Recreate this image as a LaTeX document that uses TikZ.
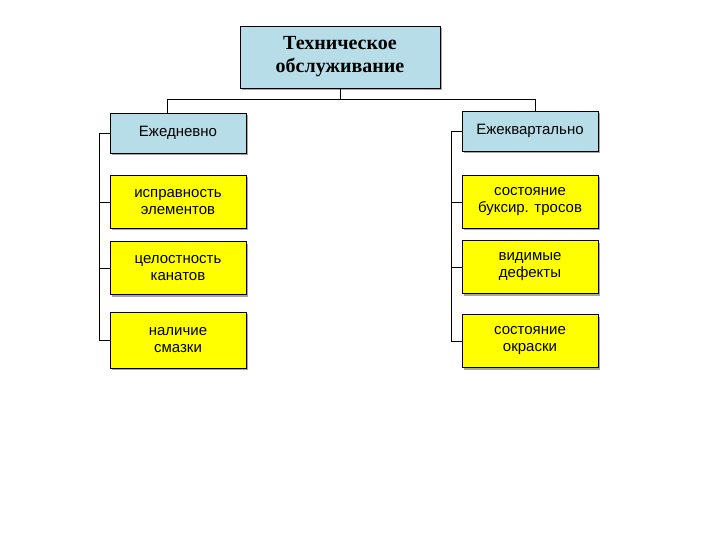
\documentclass[tikz,border=0pt]{standalone}
\usepackage{fontspec}
\setmainfont{Liberation Sans}
\newfontfamily\titlefont{Liberation Serif}
\usetikzlibrary{shadows}
\definecolor{cyanbox}{RGB}{183,222,232}
\definecolor{yelbox}{RGB}{255,255,0}
\tikzset{
 box/.style={draw=black,line width=0.8pt,minimum width=136pt,align=center,font=\fontsize{15}{17}\selectfont,
   drop shadow={shadow xshift=2pt,shadow yshift=-2pt,fill=gray!70,opacity=1}},
 hdr/.style={box,fill=cyanbox,minimum height=40pt},
 itm/.style={box,fill=yelbox,minimum height=53pt},
 ln/.style={line width=0.6pt}
}
\begin{document}
\begin{tikzpicture}[x=1pt,y=-1pt]
\useasboundingbox (0,0) rectangle (720,540);
\node[box,fill=cyanbox,minimum width=200pt,minimum height=62pt,font=\titlefont\bfseries\fontsize{20}{23}\selectfont] (top) at (340,57) {Техническое\\обслуживание};
\node[hdr] (d) at (178,133) {Ежедневно};
\node[hdr] (q) at (530,131) {Ежеквартально};
\node[itm] (d1) at (178,202) {исправность\\элементов};
\node[itm] (d2) at (178,268) {целостность\\канатов};
\node[itm,minimum height=56pt] (d3) at (178,340) {наличие\\смазки};
\node[itm] (q1) at (530,202) {состояние\\буксир. тросов};
\node[itm] (q2) at (530,267) {видимые\\дефекты};
\node[itm] (q3) at (530,341) {состояние\\окраски};
\coordinate (j) at (340,99);
\draw[ln] (top.south) -- (j);
\draw[ln] (167,99) coordinate (jl) -- (535,99) coordinate (jr);
\draw[ln] (jl) -- (jl |- d.north);
\draw[ln] (jr) -- (jr |- q.north);
\draw[ln] (d.west) -- ++(-10,0) coordinate (dl) -- (dl |- d3.west) -- (d3.west);
\draw[ln] (dl |- d1.west) -- (d1.west);
\draw[ln] (dl |- d2.west) -- (d2.west);
\draw[ln] (q.west) -- ++(-10,0) coordinate (ql) -- (ql |- q3.west) -- (q3.west);
\draw[ln] (ql |- q1.west) -- (q1.west);
\draw[ln] (ql |- q2.west) -- (q2.west);
\end{tikzpicture}
\end{document}
